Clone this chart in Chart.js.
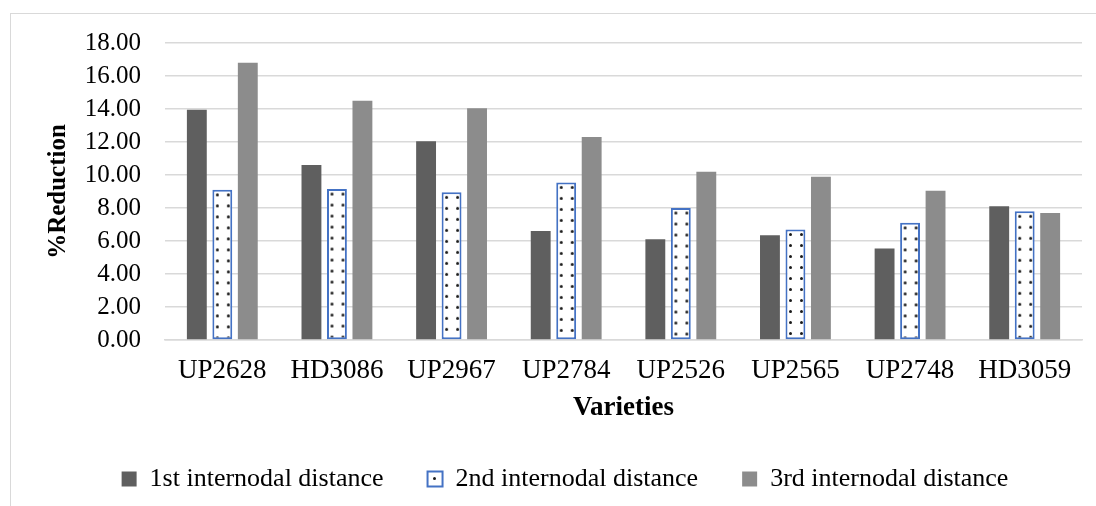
<!DOCTYPE html>
<html>
<head>
<meta charset="utf-8">
<script src="https://cdn.jsdelivr.net/npm/chart.js@4.4.1/dist/chart.umd.min.js"></script>
<style>
  html, body { margin: 0; padding: 0; background: #fff; overflow: hidden; }
  #wrap { position: relative; width: 1096px; height: 506px; }
  #frame { position: absolute; left: 10px; top: 13px; width: 1200px; height: 600px; border: 1px solid #d9d9d9; }
  #chart { position: absolute; left: 0; top: 0; }
</style>
</head>
<body>
<div id="wrap">
  <div id="frame"></div>
  <canvas id="chart" width="1096" height="506"></canvas>
</div>
<script>
// --- datos ---
const varieties = ['UP2628', 'HD3086', 'UP2967', 'UP2784', 'UP2526', 'UP2565', 'UP2748', 'HD3059'];
const first  = [13.95, 10.6, 12.05, 6.6, 6.1, 6.35, 5.55, 8.1];
const second = [9.1, 9.15, 8.95, 9.55, 8.0, 6.7, 7.1, 7.8];
const third  = [16.8, 14.5, 14.05, 12.3, 10.2, 9.9, 9.05, 7.7];
const seriesNames = ['1st internodal distance', '2nd internodal distance', '3rd internodal distance'];

const FONT = "'Liberation Serif', 'Times New Roman', serif";

// tile de puntos para la 2da serie
const tile = document.createElement('canvas');
tile.width = 11; tile.height = 11;
(() => {
  const g = tile.getContext('2d');
  g.fillStyle = '#fff';
  g.fillRect(0, 0, 11, 11);
  g.fillStyle = '#1a1a1a';
  g.beginPath();
  g.arc(5.5, 5.5, 1.5, 0, Math.PI * 2);
  g.fill();
})();

const ctx = document.getElementById('chart');
const c2d = ctx.getContext('2d');
const basePattern = () => c2d.createPattern(tile, 'repeat');

// alinear el patrón a cada barra: dos columnas de puntos por barra
const alignDots = {
  id: 'alignDots',
  beforeDatasetsDraw(chart) {
    const meta = chart.getDatasetMeta(1);
    for (const el of meta.data) {
      const left = el.x - el.width / 2;
      const p = basePattern();
      p.setTransform(new DOMMatrix().translateSelf(left + 5 - 5.5, el.y + 5 - 5.5));
      el.options.backgroundColor = p;
    }
  }
};

new Chart(ctx, {
  type: 'bar',
  data: {
    labels: varieties,
    datasets: [
      { label: seriesNames[0], data: first, backgroundColor: '#5f5f5f', borderWidth: 0 },
      { label: seriesNames[1], data: second, backgroundColor: c => basePattern(),
        borderColor: '#4472c4', borderWidth: 2, borderSkipped: false },
      { label: seriesNames[2], data: third, backgroundColor: '#8c8c8c', borderWidth: 0 }
    ]
  },
  options: {
    responsive: false,
    animation: false,
    categoryPercentage: 0.667,
    barPercentage: 0.78,
    layout: { padding: { left: 48, top: 43, right: 14, bottom: 4 } },
    plugins: {
      tooltip: { enabled: false },
      legend: {
        position: 'bottom',
        labels: {
          color: '#000',
          font: { family: FONT, size: 26 },
          boxWidth: 15,
          boxHeight: 15,
          padding: 44
        }
      }
    },
    scales: {
      x: {
        grid: { display: false, drawTicks: false },
        border: { color: '#d9d9d9', width: 1.5 },
        ticks: { color: '#000', font: { family: FONT, size: 27 }, padding: 15, maxRotation: 0 },
        title: { display: true, text: 'Varieties', color: '#000',
                 font: { family: FONT, size: 27, weight: 'bold' }, padding: { top: 0, bottom: -2 } },
        afterFit: s => { s.height = 82; }
      },
      y: {
        min: 0,
        max: 18,
        grid: { color: '#d9d9d9', lineWidth: 1.5, drawTicks: false },
        border: { display: false },
        ticks: { stepSize: 2, color: '#000', font: { family: FONT, size: 25 }, padding: 24,
                 callback: v => Number(v).toFixed(2) },
        title: { display: true, text: '%Reduction', color: '#000',
                 font: { family: FONT, size: 25, weight: 'bold' }, padding: { top: -4, bottom: 0 } },
        afterFit: s => { s.width = 117; }
      }
    }
  },
  plugins: [alignDots]
});
</script>
</body>
</html>
